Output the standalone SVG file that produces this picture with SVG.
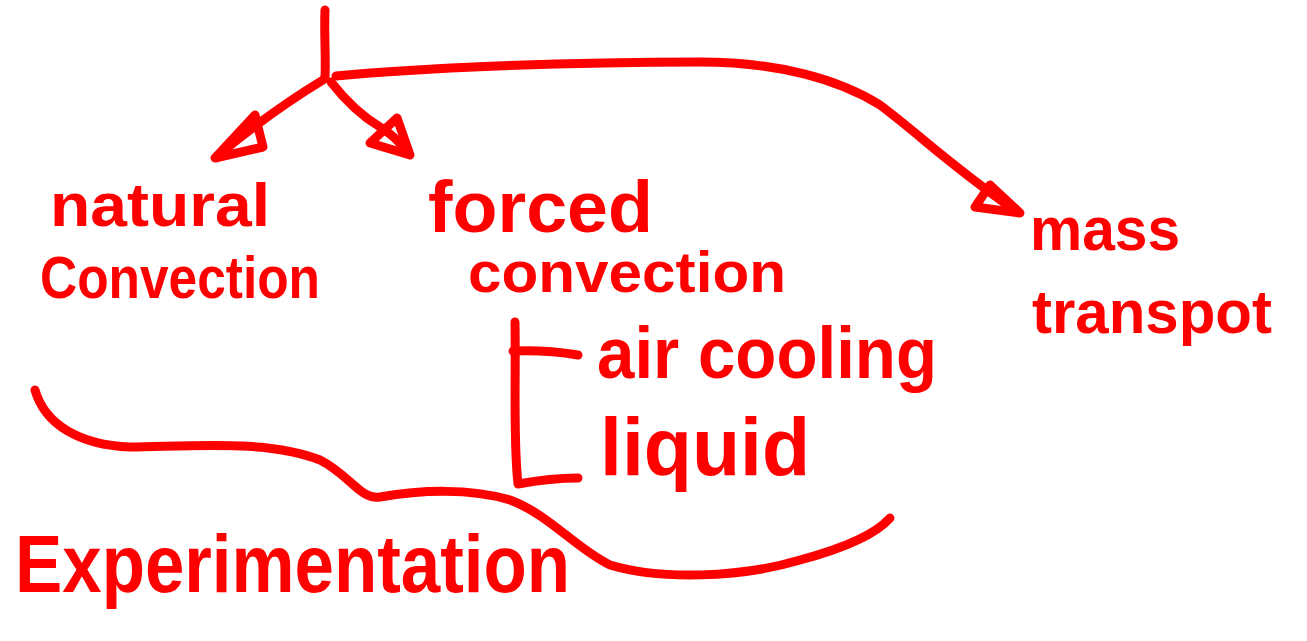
<svg xmlns="http://www.w3.org/2000/svg" width="1307" height="641" viewBox="0 0 1307 641">
<style>
.ln{fill:none;stroke:#ff0000;stroke-width:9;stroke-linecap:round;stroke-linejoin:round}
.t{fill:#ff0000;font-family:"Liberation Sans",Arial,sans-serif;font-weight:bold}
</style>
<rect width="1307" height="641" fill="#ffffff"/>
<g id="connectors">
<path class="ln" d="M325,10 C324,35 326,55 325,78"/>
<path class="ln" d="M323,80 C290,100 255,125 222,152"/>
<polygon class="ln" points="215,158 255,115 263,147"/>
<path class="ln" d="M331,82 C345,100 360,115 380,127 C392,135 398,140 405,150"/>
<polygon class="ln" points="410,155 397,118 370,143"/>
<path class="ln" d="M336,76 C420,68 560,62 700,62 C780,62 840,80 880,105 C920,135 950,165 1012,208"/>
<polygon class="ln" points="1020,213 990,185 975,207"/>
<path class="ln" d="M515,322 C516,380 513,440 518,484 C540,480 560,478 578,478"/>
<path class="ln" d="M513,351 C540,350 560,352 578,355"/>
<path class="ln" d="M35,390 C45,425 80,445 130,447 C200,446 270,440 320,460 C350,475 360,500 380,497 C420,490 470,488 510,500 C550,515 575,548 610,565 C660,580 740,578 800,560 C845,548 875,535 890,518"/>
</g>
<g id="natural-convection">
<text class="t" x="50" y="226" font-size="62" textLength="220" lengthAdjust="spacingAndGlyphs">natural</text>
<text class="t" x="40" y="298" font-size="60" textLength="280" lengthAdjust="spacingAndGlyphs">Convection</text>
</g>
<g id="forced-convection">
<text class="t" x="428" y="232" font-size="72" textLength="225" lengthAdjust="spacingAndGlyphs">forced</text>
<text class="t" x="468" y="292" font-size="58" textLength="318" lengthAdjust="spacingAndGlyphs">convection</text>
</g>
<g id="mass-transport">
<text class="t" x="1030" y="250" font-size="62" textLength="150" lengthAdjust="spacingAndGlyphs">mass</text>
<text class="t" x="1032" y="333" font-size="62" textLength="240" lengthAdjust="spacingAndGlyphs">transpot</text>
</g>
<g id="air-cooling">
<text class="t" x="597" y="378" font-size="72" textLength="340" lengthAdjust="spacingAndGlyphs">air cooling</text>
</g>
<g id="liquid">
<text class="t" x="600" y="475" font-size="82" textLength="210" lengthAdjust="spacingAndGlyphs">liquid</text>
</g>
<g id="experimentation">
<text class="t" x="15" y="592" font-size="82" textLength="555" lengthAdjust="spacingAndGlyphs">Experimentation</text>
</g>
</svg>
